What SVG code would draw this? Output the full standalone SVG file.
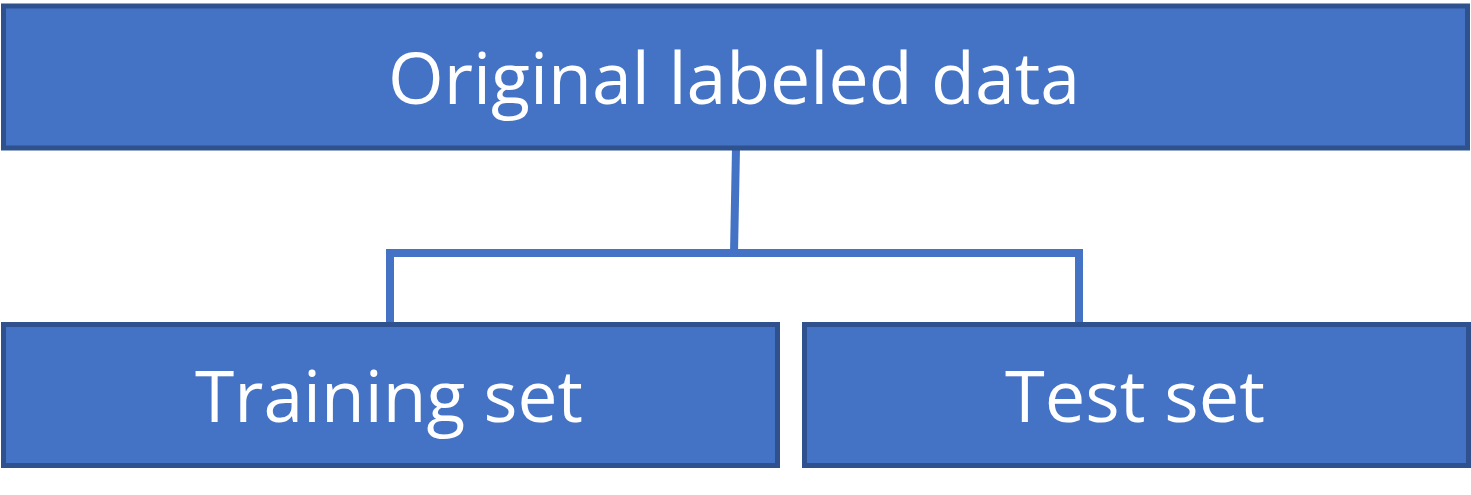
<svg xmlns="http://www.w3.org/2000/svg" width="1471" height="495" viewBox="0 0 1471 495">
<style>
.box{fill:#4472C4;stroke:#2F528F;stroke-width:5}
.lbl{fill:#FFFFFF;font-family:"Open Sans","Liberation Sans",sans-serif;font-size:72px;text-anchor:middle}
.con{fill:none;stroke:#4472C4;stroke-width:8}
</style>
<rect width="1471" height="495" fill="#FFFFFF"/>
<g id="connectors">
<polyline class="con" points="736,148 734,253"/>
<polyline class="con" points="390,324 390,253 1079,253 1079,324"/>
</g>
<g id="original">
<rect class="box" x="3.5" y="6" width="1464" height="142"/>
<text class="lbl" x="734" y="104" textLength="692" lengthAdjust="spacingAndGlyphs">Original labeled data</text>
</g>
<g id="training">
<rect class="box" x="3.5" y="324.5" width="774" height="141"/>
<text class="lbl" x="389" y="422" textLength="388" lengthAdjust="spacingAndGlyphs">Training set</text>
</g>
<g id="test">
<rect class="box" x="804.5" y="324.5" width="664" height="141"/>
<text class="lbl" x="1135" y="422" textLength="260" lengthAdjust="spacingAndGlyphs">Test set</text>
</g>
</svg>
